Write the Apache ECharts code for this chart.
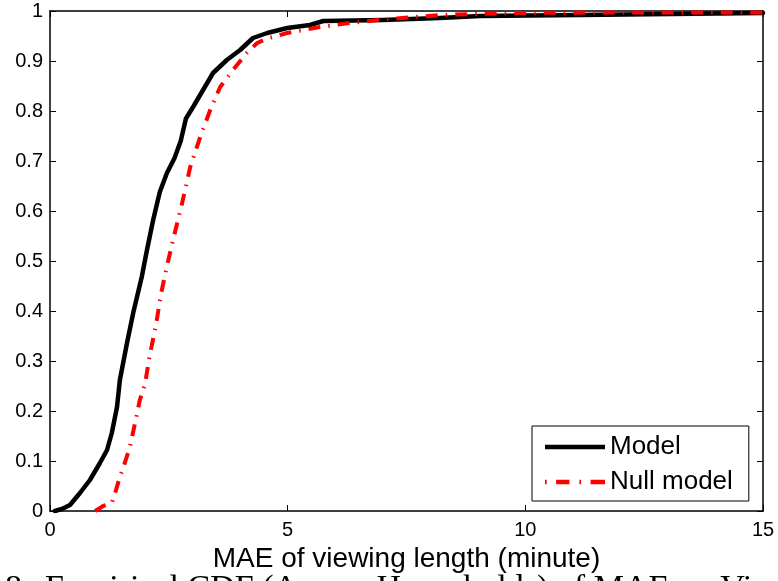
<!DOCTYPE html>
<html>
<head>
<meta charset="utf-8">
<script src="https://cdn.jsdelivr.net/npm/echarts@6/dist/echarts.min.js"></script>
<style>
html,body{margin:0;padding:0;background:#fff;}
#chart{width:778px;height:581px;}
</style>
</head>
<body>
<div id="chart"></div>
<script>
// ---- data ----
const xTicks = [0, 5, 10, 15];
const yTicks = [0, 0.1, 0.2, 0.3, 0.4, 0.5, 0.6, 0.7, 0.8, 0.9, 1];
const seriesNames = ['Model', 'Null model'];
const modelX = [0.1, 0.25, 0.42, 0.63, 0.84, 1.05, 1.2, 1.3, 1.41, 1.47, 1.62, 1.75, 1.93, 2.04, 2.17, 2.31, 2.46, 2.62, 2.75, 2.86, 3.01, 3.22, 3.43, 3.72, 4.0, 4.27, 4.57, 4.99, 5.47, 5.75, 7.0, 8.2, 9.05, 11.15, 15];
const modelY = [0, 0.004, 0.012, 0.036, 0.062, 0.096, 0.122, 0.156, 0.208, 0.262, 0.336, 0.396, 0.468, 0.522, 0.582, 0.638, 0.676, 0.706, 0.74, 0.785, 0.808, 0.842, 0.876, 0.902, 0.922, 0.946, 0.956, 0.966, 0.972, 0.98, 0.982, 0.986, 0.99, 0.992, 0.996];
const nullX = [0.95, 1.12, 1.3, 1.37, 1.47, 1.58, 1.68, 1.79, 1.89, 2.0, 2.1, 2.23, 2.33, 2.48, 2.63, 2.78, 2.95, 3.16, 3.37, 3.58, 3.85, 4.14, 4.36, 4.57, 4.99, 5.68, 6.31, 6.94, 7.64, 8.27, 8.9, 9.74, 11.6, 15];
const nullY = [0, 0.01, 0.016, 0.036, 0.068, 0.098, 0.128, 0.176, 0.222, 0.255, 0.312, 0.372, 0.432, 0.498, 0.558, 0.616, 0.688, 0.748, 0.802, 0.848, 0.882, 0.916, 0.936, 0.945, 0.956, 0.968, 0.976, 0.982, 0.988, 0.992, 0.994, 0.996, 0.997, 0.997];
const xName = 'MAE of viewing length (minute)';
const captionNum = '8:';
const captionText = 'Empirical CDF (Across Households) of MAE on Viewing Length';

const pairs = (xs, ys) => xs.map((x, i) => [x, ys[i]]);
const FONT = '"Liberation Sans", Arial, Helvetica, sans-serif';

const chart = echarts.init(document.getElementById('chart'), null, {renderer: 'canvas'});
const axisCommon = {
  type: 'value',
  axisLine: {show: true, onZero: false, lineStyle: {color: '#000', width: 1.5}},
  axisTick: {show: true, inside: true, length: 6, lineStyle: {color: '#000', width: 1}},
  splitLine: {show: false},
  minorTick: {show: false}
};
const option = {
  backgroundColor: '#fff',
  animation: false,
  grid: {left: 50, right: 15, top: 11, bottom: 70, containLabel: false, outerBoundsMode: 'none'},
  xAxis: [
    Object.assign({}, axisCommon, {
      position: 'bottom', min: 0, max: 15, interval: 5,
      name: xName, nameLocation: 'middle', nameGap: 34,
      nameTextStyle: {fontFamily: FONT, fontSize: 28, color: '#000'},
      axisLabel: {fontFamily: FONT, fontSize: 20, color: '#000', margin: 9,
        formatter: v => xTicks.includes(v) ? String(v) : ''}
    }),
    Object.assign({}, axisCommon, {
      position: 'top', min: 0, max: 15, interval: 5,
      axisLabel: {show: false}
    })
  ],
  yAxis: [
    Object.assign({}, axisCommon, {
      position: 'left', min: 0, max: 1, interval: 0.1,
      axisLabel: {fontFamily: FONT, fontSize: 20, color: '#000', margin: 7,
        formatter: v => { const t = yTicks.find(k => Math.abs(k - v) < 1e-9); return t === undefined ? '' : String(t); }}
    }),
    Object.assign({}, axisCommon, {
      position: 'right', min: 0, max: 1, interval: 0.1,
      axisLabel: {show: false}
    })
  ],
  legend: {
    show: true,
    orient: 'vertical',
    left: 532, top: 426,
    padding: [6, 16, 4, 13],
    itemGap: 5,
    itemWidth: 60,
    itemHeight: 4.5,
    borderColor: '#000', borderWidth: 1,
    backgroundColor: '#fff',
    textStyle: {fontFamily: FONT, fontSize: 26, color: '#000', lineHeight: 30},
    data: [
      {name: seriesNames[0], icon: 'path://M0,0h60v4.5h-60z'},
      {name: seriesNames[1], icon: 'path://M0,0h1.5v4h-1.5z M10,0h12v4h-12z M31,0h1.5v4h-1.5z M41,0h13v4h-13z'}
    ]
  },
  series: [
    {
      name: seriesNames[0], type: 'line', xAxisIndex: 0, yAxisIndex: 0,
      data: pairs(modelX, modelY), symbol: 'none', showSymbol: false, smooth: false,
      lineStyle: {color: '#000', width: 4.5, cap: 'round', join: 'round'},
      itemStyle: {color: '#000'}, z: 2
    },
    {
      name: seriesNames[1], type: 'line', xAxisIndex: 0, yAxisIndex: 0,
      data: pairs(nullX, nullY), symbol: 'none', showSymbol: false, smooth: false,
      lineStyle: {color: '#ff0000', width: 4, type: [12, 8, 1.5, 8]},
      itemStyle: {color: '#ff0000'}, z: 3
    }
  ],
  graphic: [
    {type: 'text', left: 5, top: 572, silent: true,
      style: {text: captionNum, font: '34px "Liberation Serif", "Times New Roman", serif', fill: '#000'}},
    {type: 'text', left: 45, top: 572, silent: true,
      style: {text: captionText, font: '34px "Liberation Serif", "Times New Roman", serif', fill: '#000'}}
  ]
};
chart.setOption(option);
</script>
</body>
</html>
